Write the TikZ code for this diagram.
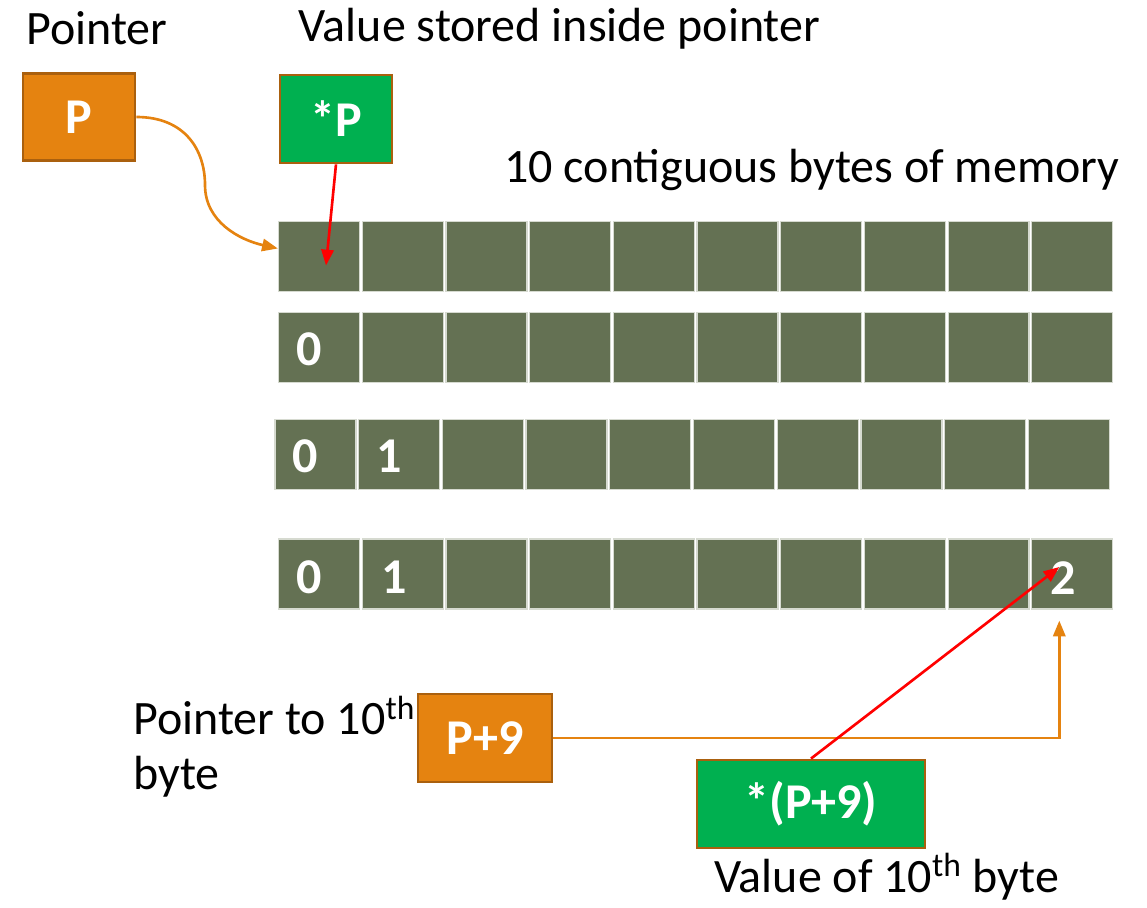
\documentclass[tikz,border=0pt]{standalone}
\usepackage{fontspec}
\setmainfont{Carlito}
\usetikzlibrary{calc,arrows.meta}
\definecolor{memcell}{RGB}{100,113,83}
\definecolor{celledge}{RGB}{214,218,208}
\definecolor{ptrorange}{RGB}{229,131,16}
\definecolor{valgreen}{RGB}{0,176,80}
\definecolor{boxedge}{RGB}{170,96,14}
\definecolor{linkred}{RGB}{255,0,0}
\begin{document}
\begin{tikzpicture}[x=0.02cm,y=-0.02cm,
  cell/.style={draw=celledge, line width=0.7pt, fill=memcell,
    minimum width=1.62cm, minimum height=1.4cm, inner sep=0pt},
  box/.style={draw=boxedge, line width=1.6pt, inner sep=0pt, text=white,
    font=\bfseries\fontsize{28.5}{32}\selectfont},
  ptrbox/.style={box, fill=ptrorange},
  valbox/.style={box, fill=valgreen},
  txt/.style={font=\fontsize{27.3}{32}\selectfont, inner sep=0pt},
  digit/.style={text=white, inner sep=0pt, font=\bfseries\fontsize{28.5}{32}\selectfont},
  oarrow/.style={draw=ptrorange, line width=1.5pt, -{Triangle[length=9pt,width=7pt]}},
  rarrow/.style={draw=linkred, line width=1.5pt, -{Triangle[length=9pt,width=7pt]}}]
\useasboundingbox (0,0) rectangle (1147,908);

% four snapshots of the same ten bytes
\foreach \r/\xo/\yc in {1/278/256.5, 2/278/347.5, 3/274.5/454.5, 4/278/574}{
  \foreach \i in {1,...,10}{
    \node[cell] (r\r-\i) at ({\xo+41+(\i-1)*83.7},\yc) {};
  }
}

% byte contents
\node[digit] (d20) at ($(r2-1.center)+(-10,2)$) {0};
\node[digit] (d30) at ($(r3-1.center)+(-10,2)$) {0};
\node[digit] (d31) at ($(r3-2.center)+(-10,2)$) {1};
\node[digit] (d40) at ($(r4-1.center)+(-10,3)$) {0};
\node[digit] (d41) at ($(r4-2.center)+(-9,3)$) {1};
\node[digit] (d49) at ($(r4-10.center)+(-9,4)$) {2};

% pointer and value boxes
\node[ptrbox, minimum width=2.24cm, minimum height=1.74cm] (p) at (79,117) {P};
\node[valbox, minimum width=2.24cm, minimum height=1.76cm] (sp) at (336,119) {*P};
\node[ptrbox, minimum width=2.68cm, minimum height=1.76cm] (p9) at (485,738) {P+9};
\node[valbox, minimum width=4.56cm, minimum height=1.76cm] (sp9) at (811,804) {*(P+9)};

% captions
\node[txt, anchor=base west] (tptr) at (26,45) {Pointer};
\node[txt, anchor=base west] (tval) at (298,42) {Value stored inside pointer};
\node[txt, anchor=base west] (tmem) at (504,183) {10 contiguous bytes of memory};
\node[txt, anchor=base west] (tp9a) at (133,735) {Pointer to 10\textsuperscript{th}};
\node[txt, anchor=base west] (tp9b) at (133,790) {byte};
\node[txt, anchor=base west] (tv9) at (714,892) {Value of 10\textsuperscript{th} byte};

% connectors
\draw[oarrow] (p.east) .. controls (185,117) and (205,150) .. (205,185)
  .. controls (205,222) and (240,240) .. ($(r1-1.west)+(0,-8)$);
\draw[rarrow] (sp.south) -- ($(r1-1.center)+(7,9)$);
\coordinate (p9tip) at ($(r4-10.south)+(-13,11)$);
\draw[oarrow] (p9.east) -| (p9tip);
\draw[rarrow] (sp9.north) -- ($(r4-10.center)+(-13,-7)$);
\end{tikzpicture}
\end{document}
